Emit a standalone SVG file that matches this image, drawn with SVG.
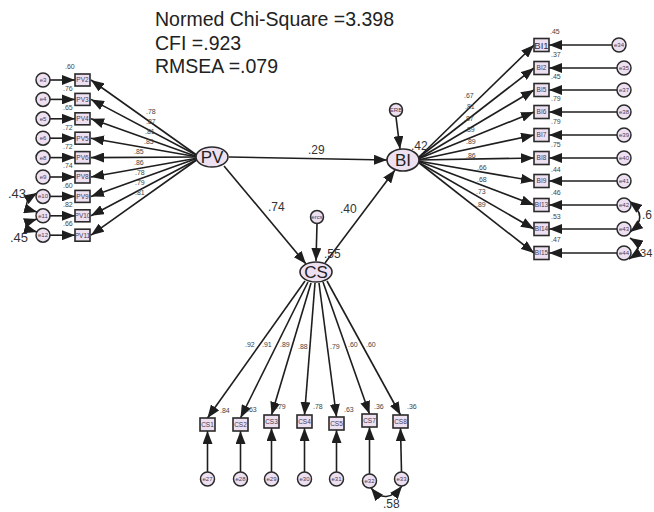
<svg xmlns="http://www.w3.org/2000/svg" width="654" height="512" viewBox="0 0 654 512">
<style>
text{font-family:"Liberation Sans",Arial,sans-serif;}
.hdr{font-size:19.5px;fill:#222;}
.lat{fill:#ede0f0;stroke:#2a2a2a;stroke-width:1.6;}
.box{fill:#ede0f0;stroke:#2a2a2a;stroke-width:1.6;}
.err{fill:#ede0f0;stroke:#2a2a2a;stroke-width:1.5;}
.lt{font-size:17px;fill:#222;text-anchor:middle;}
.bt{font-size:6.5px;fill:#4a3a55;text-anchor:middle;}
.et{font-size:6px;fill:#4a3a55;text-anchor:middle;}
.sm{font-size:7px;fill:#444;}
.md{font-size:12px;fill:#333;}
.cn line,.cn path{stroke:#1e1e1e;stroke-width:1.6;fill:none;marker-end:url(#ah);}
.cn path.cov{marker-start:url(#ah);}
</style>
<defs>
<marker id="ah" viewBox="0 0 13 10" markerWidth="13" markerHeight="10" refX="13" refY="5" orient="auto-start-reverse" markerUnits="userSpaceOnUse">
<path d="M0,0 L13,5 L0,10 z" fill="#1e1e1e"/>
</marker>
</defs>

<g id="fit">
<text class="hdr" x="155" y="26">Normed Chi-Square =3.398</text>
<text class="hdr" x="155" y="50">CFI =.923</text>
<text class="hdr" x="155" y="73">RMSEA =.079</text>
</g>

<g class="cn" id="connectors">
<!-- PV loadings -->
<line x1="198" y1="156" x2="91" y2="80"/>
<line x1="198" y1="156" x2="91" y2="99.4"/>
<line x1="198" y1="157" x2="91" y2="118.8"/>
<line x1="198" y1="157" x2="91" y2="138.2"/>
<line x1="198" y1="157" x2="91" y2="157.6"/>
<line x1="198" y1="158" x2="91" y2="177"/>
<line x1="198" y1="158" x2="91" y2="196.4"/>
<line x1="198" y1="159" x2="91" y2="215.8"/>
<line x1="198" y1="159" x2="91" y2="235.2"/>
<!-- PV errors -->
<line x1="50" y1="80" x2="75" y2="80"/>
<line x1="50" y1="99.4" x2="75" y2="99.4"/>
<line x1="50" y1="118.8" x2="75" y2="118.8"/>
<line x1="50" y1="138.2" x2="75" y2="138.2"/>
<line x1="50" y1="157.6" x2="75" y2="157.6"/>
<line x1="50" y1="177" x2="75" y2="177"/>
<line x1="50" y1="196.4" x2="75" y2="196.4"/>
<line x1="50" y1="215.8" x2="75" y2="215.8"/>
<line x1="50" y1="235.2" x2="75" y2="235.2"/>
<path class="cov" d="M37,193 Q16,206 37,212"/>
<path class="cov" d="M37,219 Q16,226 37,232"/>
<!-- structural -->
<line x1="229" y1="157" x2="387" y2="160"/>
<line x1="224" y1="166" x2="306" y2="264"/>
<line x1="325" y1="263" x2="395" y2="170"/>
<line x1="317" y1="224" x2="316" y2="261"/>
<line x1="396" y1="117" x2="400" y2="149"/>
<!-- BI loadings -->
<line x1="418" y1="158" x2="534" y2="45"/>
<line x1="418" y1="158" x2="534" y2="68"/>
<line x1="418" y1="159" x2="534" y2="90"/>
<line x1="418" y1="159" x2="534" y2="112"/>
<line x1="418" y1="160" x2="534" y2="135"/>
<line x1="418" y1="160" x2="534" y2="158"/>
<line x1="418" y1="161" x2="534" y2="181"/>
<line x1="418" y1="161" x2="534" y2="205"/>
<line x1="418" y1="162" x2="534" y2="229"/>
<line x1="418" y1="162" x2="534" y2="253"/>
<!-- BI errors -->
<line x1="612" y1="45" x2="549" y2="45"/>
<line x1="617" y1="68" x2="549" y2="68"/>
<line x1="617" y1="90" x2="549" y2="90"/>
<line x1="617" y1="112" x2="549" y2="112"/>
<line x1="617" y1="135" x2="549" y2="135"/>
<line x1="617" y1="158" x2="549" y2="158"/>
<line x1="617" y1="181" x2="549" y2="181"/>
<line x1="617" y1="205" x2="549" y2="205"/>
<line x1="617" y1="229" x2="549" y2="229"/>
<line x1="617" y1="253" x2="549" y2="253"/>
<path class="cov" d="M629,201 Q650,217 630,232"/>
<path class="cov" d="M630,238 Q646,248 629,259"/>
<!-- CS loadings -->
<line x1="305" y1="281" x2="207.5" y2="418"/>
<line x1="308" y1="282" x2="240.5" y2="418"/>
<line x1="311" y1="283" x2="271.5" y2="415"/>
<line x1="315" y1="283" x2="304.5" y2="415"/>
<line x1="319" y1="283" x2="336.5" y2="417"/>
<line x1="323" y1="282" x2="369.5" y2="414"/>
<line x1="327" y1="281" x2="400.5" y2="415"/>
<!-- CS errors -->
<line x1="207.5" y1="472" x2="207.5" y2="431"/>
<line x1="240.5" y1="472" x2="240.5" y2="431"/>
<line x1="271.5" y1="472" x2="271.5" y2="428"/>
<line x1="304.5" y1="472" x2="304.5" y2="428"/>
<line x1="336.5" y1="472" x2="336.5" y2="430"/>
<line x1="369.5" y1="474" x2="369.5" y2="427"/>
<line x1="401.5" y1="472" x2="400.5" y2="428"/>
<path class="cov" d="M371,488 Q386,506 402,486"/>
</g>

<g id="PV"><ellipse class="lat" cx="212" cy="157" rx="16" ry="10"/><text class="lt" x="212" y="163">PV</text></g>
<g id="BI"><ellipse class="lat" cx="403" cy="160" rx="16" ry="11"/><text class="lt" x="403" y="166">BI</text><text class="md" x="411" y="150">.42</text></g>
<g id="CS"><ellipse class="lat" cx="316" cy="272" rx="16" ry="10"/><text class="lt" x="316" y="278">CS</text><text class="md" x="324" y="258">.55</text></g>
<g id="ercs"><circle class="err" cx="317" cy="217" r="6.5"/><text class="et" x="317" y="219">ercs</text></g>
<g id="erb"><circle class="err" cx="396" cy="110" r="6.5"/><text class="et" x="396" y="112">ERB</text></g>

<g id="struct-labels">
<text class="md" x="308" y="154">.29</text>
<text class="md" x="268" y="211">.74</text>
<text class="md" x="340" y="213">.40</text>
</g>

<!-- PV indicators -->
<g id="PV2"><rect class="box" x="75" y="74" width="15" height="12"/><text class="bt" x="82.5" y="82.3">PV2</text></g>
<g id="PV3"><rect class="box" x="75" y="93.4" width="15" height="12"/><text class="bt" x="82.5" y="101.7">PV3</text></g>
<g id="PV4"><rect class="box" x="75" y="112.8" width="15" height="12"/><text class="bt" x="82.5" y="121.1">PV4</text></g>
<g id="PV5"><rect class="box" x="75" y="132.2" width="15" height="12"/><text class="bt" x="82.5" y="140.5">PV5</text></g>
<g id="PV6"><rect class="box" x="75" y="151.6" width="15" height="12"/><text class="bt" x="82.5" y="159.9">PV6</text></g>
<g id="PV8"><rect class="box" x="75" y="171" width="15" height="12"/><text class="bt" x="82.5" y="179.3">PV8</text></g>
<g id="PV9"><rect class="box" x="75" y="190.4" width="15" height="12"/><text class="bt" x="82.5" y="198.7">PV9</text></g>
<g id="PV10"><rect class="box" x="75" y="209.8" width="15" height="12"/><text class="bt" x="82.5" y="218.1">PV10</text></g>
<g id="PV11"><rect class="box" x="75" y="229.2" width="15" height="12"/><text class="bt" x="82.5" y="237.5">PV11</text></g>

<g id="e3"><circle class="err" cx="43" cy="80" r="7"/><text class="et" x="43" y="82">e3</text></g>
<g id="e4"><circle class="err" cx="43" cy="99.4" r="7"/><text class="et" x="43" y="101.4">e4</text></g>
<g id="e5"><circle class="err" cx="43" cy="118.8" r="7"/><text class="et" x="43" y="120.8">e5</text></g>
<g id="e6"><circle class="err" cx="43" cy="138.2" r="7"/><text class="et" x="43" y="140.2">e6</text></g>
<g id="e8"><circle class="err" cx="43" cy="157.6" r="7"/><text class="et" x="43" y="159.6">e8</text></g>
<g id="e9"><circle class="err" cx="43" cy="177" r="7"/><text class="et" x="43" y="179">e9</text></g>
<g id="e10"><circle class="err" cx="43" cy="196.4" r="7"/><text class="et" x="43" y="198.4">e10</text></g>
<g id="e11"><circle class="err" cx="43" cy="215.8" r="7"/><text class="et" x="43" y="217.8">e11</text></g>
<g id="e12"><circle class="err" cx="43" cy="235.2" r="7"/><text class="et" x="43" y="237.2">e12</text></g>

<g id="pv-labels">
<text class="sm" x="65" y="69">.60</text>
<text class="sm" x="63" y="91">.76</text>
<text class="sm" x="63" y="110">.65</text>
<text class="sm" x="63" y="130">.72</text>
<text class="sm" x="63" y="149">.72</text>
<text class="sm" x="63" y="168">.74</text>
<text class="sm" x="63" y="188">.60</text>
<text class="sm" x="63" y="207">.82</text>
<text class="sm" x="63" y="226">.66</text>
<text class="sm" x="146" y="114">.78</text>
<text class="sm" x="146" y="124">.87</text>
<text class="sm" x="145" y="134">.81</text>
<text class="sm" x="144" y="144">.85</text>
<text class="sm" x="134" y="154">.85</text>
<text class="sm" x="134" y="165">.86</text>
<text class="sm" x="135" y="175">.78</text>
<text class="sm" x="135" y="185">.79</text>
<text class="sm" x="135" y="195">.81</text>
<text class="md" x="8" y="198" style="font-size:13px">.43</text>
<text class="md" x="10" y="242" style="font-size:13px">.45</text>
</g>

<!-- BI indicators -->
<g id="BI1"><rect class="box" x="534" y="38.5" width="15" height="13"/><text x="541.5" y="48.5" style="font-size:9.5px;fill:#3a2a45;text-anchor:middle">BI1</text></g>
<g id="BI2"><rect class="box" x="534" y="61.5" width="15" height="13"/><text class="bt" x="541.5" y="70.3">BI2</text></g>
<g id="BI5"><rect class="box" x="534" y="83.5" width="15" height="13"/><text class="bt" x="541.5" y="92.3">BI5</text></g>
<g id="BI6"><rect class="box" x="534" y="105.5" width="15" height="13"/><text class="bt" x="541.5" y="114.3">BI6</text></g>
<g id="BI7"><rect class="box" x="534" y="128.5" width="15" height="13"/><text class="bt" x="541.5" y="137.3">BI7</text></g>
<g id="BI8"><rect class="box" x="534" y="151.5" width="15" height="13"/><text class="bt" x="541.5" y="160.3">BI8</text></g>
<g id="BI9"><rect class="box" x="534" y="174.5" width="15" height="13"/><text class="bt" x="541.5" y="183.3">BI9</text></g>
<g id="BI13"><rect class="box" x="534" y="198.5" width="15" height="13"/><text class="bt" x="541.5" y="207.3">BI13</text></g>
<g id="BI14"><rect class="box" x="534" y="222.5" width="15" height="13"/><text class="bt" x="541.5" y="231.3">BI14</text></g>
<g id="BI15"><rect class="box" x="534" y="246.5" width="15" height="13"/><text class="bt" x="541.5" y="255.3">BI15</text></g>

<g id="e34"><circle class="err" cx="619" cy="45" r="7"/><text class="et" x="619" y="47">e34</text></g>
<g id="e35"><circle class="err" cx="624" cy="68" r="7"/><text class="et" x="624" y="70">e35</text></g>
<g id="e37"><circle class="err" cx="624" cy="90" r="7"/><text class="et" x="624" y="92">e37</text></g>
<g id="e38"><circle class="err" cx="624" cy="112" r="7"/><text class="et" x="624" y="114">e38</text></g>
<g id="e39"><circle class="err" cx="624" cy="135" r="7"/><text class="et" x="624" y="137">e39</text></g>
<g id="e40"><circle class="err" cx="624" cy="158" r="7"/><text class="et" x="624" y="160">e40</text></g>
<g id="e41"><circle class="err" cx="624" cy="181" r="7"/><text class="et" x="624" y="183">e41</text></g>
<g id="e42"><circle class="err" cx="624" cy="205" r="7"/><text class="et" x="624" y="207">e42</text></g>
<g id="e43"><circle class="err" cx="624" cy="229" r="7"/><text class="et" x="624" y="231">e43</text></g>
<g id="e44"><circle class="err" cx="624" cy="253" r="7"/><text class="et" x="624" y="255">e44</text></g>

<g id="bi-labels">
<text class="sm" x="550" y="34">.45</text>
<text class="sm" x="551" y="57">.37</text>
<text class="sm" x="551" y="79">.45</text>
<text class="sm" x="551" y="101">.79</text>
<text class="sm" x="551" y="124">.79</text>
<text class="sm" x="551" y="147">.75</text>
<text class="sm" x="551" y="172">.44</text>
<text class="sm" x="551" y="195">.46</text>
<text class="sm" x="551" y="219">.53</text>
<text class="sm" x="551" y="242">.47</text>
<text class="sm" x="464" y="98">.67</text>
<text class="sm" x="465" y="109">.81</text>
<text class="sm" x="464" y="121">.87</text>
<text class="sm" x="465" y="132">.89</text>
<text class="sm" x="466" y="144">.89</text>
<text class="sm" x="466" y="158">.86</text>
<text class="sm" x="477" y="170">.66</text>
<text class="sm" x="477" y="182">.68</text>
<text class="sm" x="476" y="194">.73</text>
<text class="sm" x="476" y="207">.89</text>
<text class="md" x="642" y="219" style="font-size:12px">.6</text>
<text class="md" x="637" y="257" style="font-size:11px">.34</text>
</g>

<!-- CS indicators -->
<g id="CS1"><rect class="box" x="200" y="418" width="15" height="13"/><text class="bt" x="207.5" y="426.8">CS1</text></g>
<g id="CS2"><rect class="box" x="233" y="418" width="15" height="13"/><text class="bt" x="240.5" y="426.8">CS2</text></g>
<g id="CS3"><rect class="box" x="264" y="415" width="15" height="13"/><text class="bt" x="271.5" y="423.8">CS3</text></g>
<g id="CS4"><rect class="box" x="297" y="415" width="15" height="13"/><text class="bt" x="304.5" y="423.8">CS4</text></g>
<g id="CS5"><rect class="box" x="329" y="417" width="15" height="13"/><text class="bt" x="336.5" y="425.8">CS5</text></g>
<g id="CS7"><rect class="box" x="362" y="414" width="15" height="13"/><text class="bt" x="369.5" y="422.8">CS7</text></g>
<g id="CS8"><rect class="box" x="393" y="415" width="15" height="13"/><text class="bt" x="400.5" y="423.8">CS8</text></g>

<g id="e27"><circle class="err" cx="207.5" cy="479" r="7"/><text class="et" x="207.5" y="481">e27</text></g>
<g id="e28"><circle class="err" cx="240.5" cy="479" r="7"/><text class="et" x="240.5" y="481">e28</text></g>
<g id="e29"><circle class="err" cx="271.5" cy="479" r="7"/><text class="et" x="271.5" y="481">e29</text></g>
<g id="e30"><circle class="err" cx="304.5" cy="479" r="7"/><text class="et" x="304.5" y="481">e30</text></g>
<g id="e31"><circle class="err" cx="336.5" cy="479" r="7"/><text class="et" x="336.5" y="481">e31</text></g>
<g id="e32"><circle class="err" cx="369.5" cy="481" r="7"/><text class="et" x="369.5" y="483">e32</text></g>
<g id="e33"><circle class="err" cx="401.5" cy="479" r="7"/><text class="et" x="401.5" y="481">e33</text></g>

<g id="cs-labels">
<text class="sm" x="245" y="347">.92</text>
<text class="sm" x="262" y="347">.91</text>
<text class="sm" x="280" y="347">.89</text>
<text class="sm" x="298" y="349">.88</text>
<text class="sm" x="330" y="349">.79</text>
<text class="sm" x="348" y="347">.60</text>
<text class="sm" x="366" y="347">.60</text>
<text class="sm" x="220" y="413">.84</text>
<text class="sm" x="247" y="412">.63</text>
<text class="sm" x="276" y="409">.79</text>
<text class="sm" x="313" y="409">.78</text>
<text class="sm" x="344" y="412">.63</text>
<text class="sm" x="374" y="409">.36</text>
<text class="sm" x="407" y="409">.36</text>
<text class="md" x="383" y="508">.58</text>
</g>
</svg>
